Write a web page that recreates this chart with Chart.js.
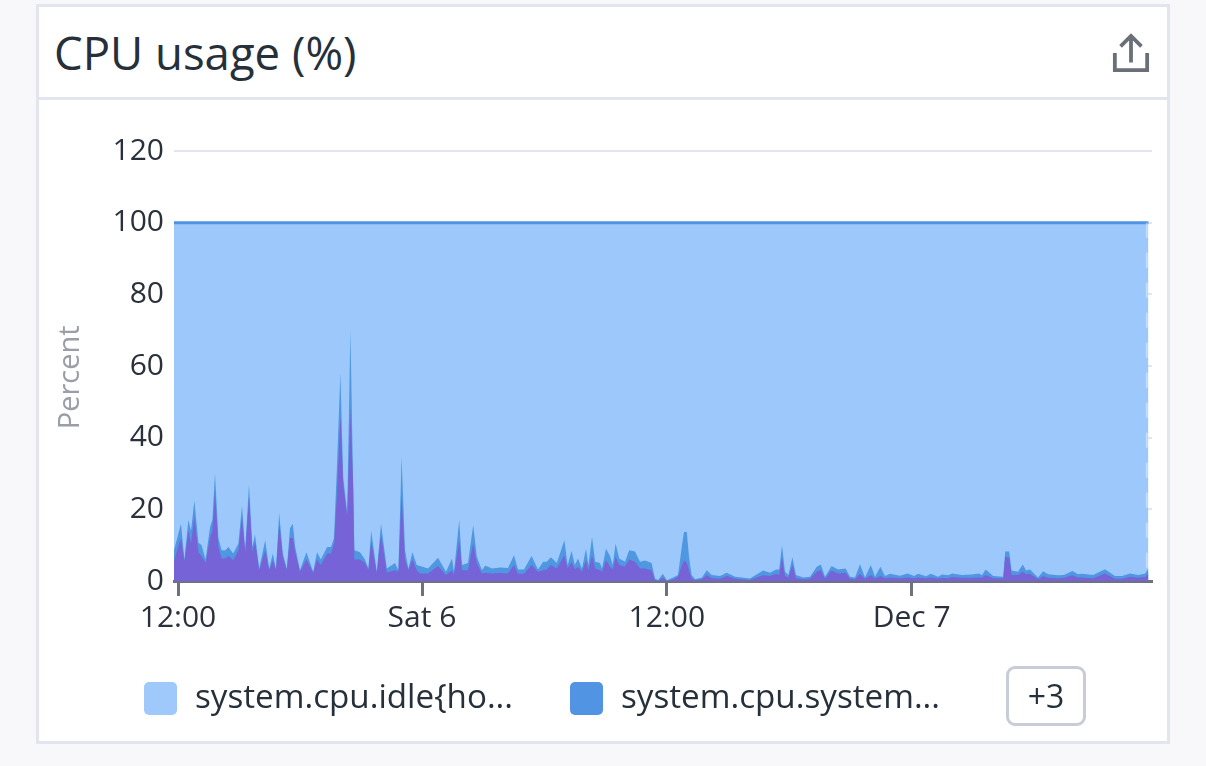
<!DOCTYPE html>
<html><head><meta charset="utf-8">
<script src="https://cdn.jsdelivr.net/npm/chart.js@4/dist/chart.umd.min.js"></script>
<style>
html,body{margin:0;padding:0;background:#f8f8fb;width:1206px;height:766px;overflow:hidden;font-family:"Open Sans",sans-serif;}
#card{position:absolute;left:36px;top:4px;width:1128px;height:734px;border:3px solid #e3e5ee;background:#fff;}
#title{position:absolute;left:15px;top:15px;font-size:45.5px;line-height:60px;color:#25303a;white-space:nowrap;}
#rule{position:absolute;left:0;right:0;top:90px;height:3px;background:#e3e5ee;}
#icon{position:absolute;left:1073px;top:25px;}
#cv{position:absolute;left:0;top:92px;}
.sw{position:absolute;top:682px;width:33px;height:33px;border-radius:5px;}
.lg{position:absolute;top:674px;font-size:33.2px;line-height:44px;color:#25303a;white-space:nowrap;}
#more{position:absolute;left:1006px;top:666px;width:74px;height:54px;border:3px solid #c9ccd8;border-radius:9px;text-align:center;font-size:32px;line-height:54px;color:#25303a;}
</style></head><body>
<div id="card">
<div id="title">CPU usage (%)</div>
<div id="rule"></div>
<svg id="icon" width="38" height="40" viewBox="0 0 40 42" fill="none" stroke="#6b7078" stroke-width="4"><path d="M20 32V4M9 15L20 4L31 15"/><path d="M3 22V40H37V22"/></svg>
<canvas id="cv" width="1128" height="590" style="width:1128px;height:590px"></canvas>
</div>
<div class="sw" style="left:144px;background:#9fc9fb"></div>
<div class="lg" style="left:195px">system.cpu.idle{ho...</div>
<div class="sw" style="left:570px;background:#5294e4"></div>
<div class="lg" style="left:621px">system.cpu.system...</div>
<div id="more">+3</div>
<script>
const seriesNames = ["system.cpu.idle", "system.cpu.system", "system.cpu.user"];
const tickPositions = [1, 62, 123.2, 184.4];
const tickLabels = ["12:00", "Sat 6", "12:00", "Dec 7"];
const yTicks = [0, 20, 40, 60, 80, 100, 120];
const samplePos = [0,1.75,2.6,3.6,4.25,5.1,6.1,6.9,7.9,9,9.6,10.25,11.1,11.9,12.75,13.6,14.8,16.1,17,17.8,18.75,19.6,20.25,21.3,22.8,23.8,24.7,25.5,26.3,27.2,28.2,29,29.7,30.3,31.5,33.1,34.8,35.75,36.7,38.3,39.25,40,40.7,41.6,42.3,43.3,44.1,44.8,45.1,46.5,47.75,48.6,49.3,50.7,51.75,53.2,55.25,56.1,56.9,57.75,58.6,59.6,60.7,61.5,63.5,66,68,69.5,70,71.3,72,73.5,74.8,75.7,77,77.8,79.5,81.5,83.5,85,86,87.5,89.4,91,92.3,93.2,94.2,95.7,97.6,98.4,99.4,100.2,101,102,103,103.6,104.5,105.3,106.5,107,108,109,109.7,110.4,111.3,112.75,113.8,115.25,116.5,117.75,119.4,120.25,121,122.2,123.2,124.8,126,127,127.5,128.2,128.75,129.4,130.3,132,133.2,134.4,136.5,138.2,140.25,144,145,147.3,149,150.5,151.3,152,152.75,153.6,154.6,155.5,157.3,159,160.7,161.7,162.75,164.4,166,167.9,169,170.25,171.5,172.75,174.2,175.25,176.6,177.75,179,181.5,183.4,185,186,188,189.25,191,192,193.5,194.6,197,199.5,201.3,202,202.9,204.8,207.3,207.8,208.8,209.4,211,212.2,213,214,216,217.3,218.5,221,222.5,224.6,226,227,229.8,232.75,235.25,237,239,241,242.75,243.6];
const systemTop = [8.6,16,6,17,14,22.5,10.7,10,6,15,17,30,12,8.6,8.5,9.5,7.7,10.5,21,8.6,27,9.5,13,3.5,11.4,3.5,7.7,3.5,19,7.7,3.5,14.7,16,9.5,3,8,2.6,8,6,9.5,9.5,12,31,58,29,19,70,26,8.6,8,6,3.5,14,2.6,16,3.5,5,3,34.6,8.6,3.5,8,4.5,4.2,3.5,6.5,2.6,6.3,2.6,17,4.5,5,15.6,6.8,3,4.3,3.5,3.8,3.6,7.2,3.2,3.2,7,3.2,5.4,5.4,6.6,5,11.4,4.5,8.4,4.5,6.3,3.5,9,4.5,12.3,5.4,5,3.5,9,7,4.5,10.5,6.3,5.4,8.6,8.2,5.4,5.7,5,0.7,0.2,2,0.2,1,1.7,10,13.7,13.7,6.8,1.7,0.5,1,3,1.7,1.4,2.3,1.2,0.7,1.4,2.9,2.3,3.2,3.2,10,2.6,1.7,6.6,1.7,1,1.2,4,4.6,1.2,4.2,3.2,3.5,1.2,1,4.7,1,4.5,1.2,4,1.4,2,1.5,2.1,1.4,2,1.3,2,1.2,1.8,1.6,2.1,1.7,1.8,2.1,1.6,3.2,1.4,1.2,8.2,8.2,2.9,2.6,4.6,2.9,3.2,1,2.7,1.9,1.6,1.7,2.8,1.9,2,1.7,3.3,1.4,1.4,2.1,1.7,2,3.5];
const userTop = [5.8,12,5.5,14,10.5,18,8,7,5,12,14,25,9.5,6.3,6.3,7,5.8,8.6,18,8,23.5,8,11,3,8.6,3,5.8,3,16,6.8,3,12,12,8,2.6,6,2.2,6,4.5,7.7,7.7,10.5,23.5,46,27,18,48,26,6,6,5,3,11,2.2,13,2.4,3,2.6,24,6,3,6,3,2.1,2.1,4.2,1.7,3,1.7,11.4,3,3,10.5,5,2,2.3,2.1,2.2,2.1,4.5,2,2,4.5,2.6,3,3.2,4.5,3.5,7.2,3.5,5.4,3.3,4,2.6,5.8,3,7.2,3.5,3,2.6,5.8,4,3.2,6.8,4.5,4,6,5.4,3.5,3.5,3,0.3,0.1,1,0.1,0.4,1.2,4.5,5.7,5,3,0.7,0.3,0.5,1.7,0.8,0.6,1.4,0.6,0.3,0.7,1.6,1.4,2,1.7,6.8,1.4,1,4.5,0.8,0.5,0.6,2.6,3,0.6,2.9,2.1,2.3,0.6,0.5,2,0.6,1.7,0.7,1.4,0.8,1,0.8,1,0.8,1,0.8,1,0.7,0.9,0.8,1.1,0.9,0.9,1,0.9,1.7,0.8,0.7,6.8,6.5,1.7,1.7,2.6,1.9,2,0.5,1.4,0.9,0.8,0.9,1.6,1,1,0.8,2.1,0.6,0.6,1.2,0.9,1.1,2];
const idleTop = [100,100];
const idlePos = [0,243.6];
const edgePos = [243.2,243.2];
const edgeTop = [100,0];

const toPoints = (xs, ys) => xs.map((x, i) => ({x, y: ys[i]}));
const tickFont = {family: '"Open Sans"', size: 30};
new Chart(document.getElementById('cv'), {
  type: 'line',
  data: {datasets: [
    {label: 'edge', data: toPoints(edgePos, edgeTop), order: 0, fill: false, borderColor: 'rgba(255,255,255,0.4)', borderWidth: 2, borderDash: [15, 15], pointRadius: 0},
    {label: seriesNames[2], data: toPoints(samplePos, userTop), order: 1, fill: 'origin', backgroundColor: '#7663d8', borderWidth: 0, pointRadius: 0, tension: 0},
    {label: seriesNames[1], data: toPoints(samplePos, systemTop), order: 2, fill: 'origin', backgroundColor: '#4f97e0', borderWidth: 0, pointRadius: 0, tension: 0},
    {label: seriesNames[0], data: toPoints(idlePos, idleTop), order: 3, fill: 'origin', backgroundColor: '#9dc8fb', borderColor: '#4f94e4', borderWidth: 3, pointRadius: 0, tension: 0}
  ]},
  options: {
    responsive: false, animation: false, devicePixelRatio: 1,
    layout: {padding: {left: 14, right: 15, top: 52, bottom: 0}},
    plugins: {legend: {display: false}, tooltip: {enabled: false}},
    scales: {
      x: {type: 'linear', min: 0, max: 244.5,
        afterBuildTicks: s => { s.ticks = tickPositions.map(v => ({value: v})); },
        afterFit: s => { s.height = 108; },
        ticks: {autoSkip: false, maxRotation: 0, padding: 4, color: '#2a313c', font: tickFont,
          callback: (v) => tickLabels[tickPositions.indexOf(v)] ?? ''},
        grid: {drawOnChartArea: false, drawTicks: true, tickLength: 15, tickWidth: 3, tickColor: '#6e717e'},
        border: {display: true, color: '#6e717e', width: 3}},
      y: {min: 0, max: 120,
        afterBuildTicks: s => { s.ticks = yTicks.map(v => ({value: v})); },
        afterFit: s => { s.width = 121; },
        title: {display: true, text: 'Percent   ', color: '#9b9ea8', font: {family: '"Open Sans"', size: 29}, padding: {top: 0, bottom: 0}},
        ticks: {color: '#2a313c', font: tickFont, padding: 10},
        grid: {drawTicks: false, color: '#e3e5ee', lineWidth: 2},
        border: {display: false}}
    }
  }
});
</script>
</body></html>
